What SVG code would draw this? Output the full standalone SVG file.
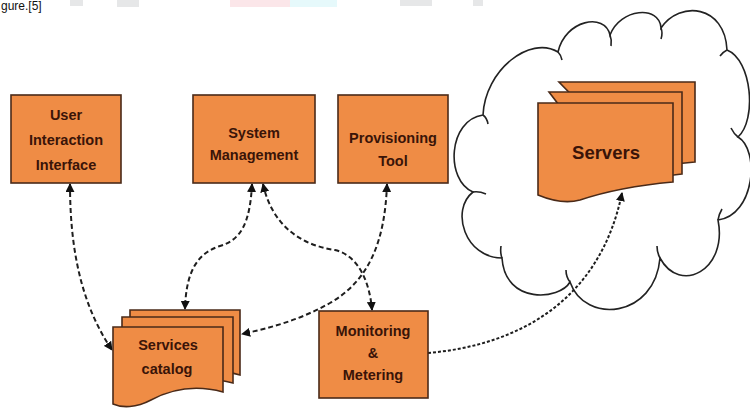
<svg xmlns="http://www.w3.org/2000/svg" width="750" height="410" viewBox="0 0 750 410">
  <style>
    .box { fill: #EF8C45; stroke: #4a2a18; stroke-width: 1.6; }
    .lbl { font-family: "Liberation Sans", Arial, sans-serif; font-weight: bold; font-size: 14.5px; fill: #3a1408; text-anchor: middle; }
    .big { font-size: 18.5px; }
    .conn { fill: none; stroke: #1e1e1e; stroke-width: 2; stroke-dasharray: 5 3; }
    .dot { fill: none; stroke: #1e1e1e; stroke-width: 2; stroke-dasharray: 3 2; }
    .cloud { fill: #ffffff; stroke: #222222; stroke-width: 1.6; }
    .hook { fill: none; stroke: #222222; stroke-width: 1.6; }
    .wm { opacity: 0.35; }
  </style>
  <defs>
    <marker id="arrow" viewBox="0 0 10 10" refX="9" refY="5" markerWidth="9" markerHeight="9" markerUnits="userSpaceOnUse" orient="auto-start-reverse">
      <path d="M0,0 L10,5 L0,10 z" fill="#111111"/>
    </marker>
  </defs>

  <rect x="0" y="0" width="750" height="410" fill="#ffffff"/>

  <!-- faint page watermark remnants -->
  <g class="wm">
    <rect x="70" y="0" width="13" height="6" fill="#b8bcc0"/>
    <rect x="117" y="0" width="22" height="7" fill="#b8bcc0"/>
    <rect x="230" y="0" width="60" height="7" fill="#f4b8c2"/>
    <rect x="290" y="0" width="47" height="7" fill="#b8eef4"/>
    <rect x="400" y="0" width="32" height="6" fill="#b8bcc0"/>
    <rect x="473" y="0" width="10" height="6" fill="#b8bcc0"/>
  </g>
  <text x="1" y="10" font-family="Liberation Sans, Arial, sans-serif" font-size="12" fill="#111111">gure.[5]</text>

  <!-- cloud -->
  <g id="cloud">
    <path class="cloud" d="M473,192 C445,180 448,120 483,115 C485,70 530,35 558,52 C565,20 605,12 610,35 C620,8 660,5 661,28 C680,0 725,5 727,50 C752,60 757,120 738,137 C760,150 755,215 718,220 C728,270 680,295 660,258 C655,318 585,325 570,282 C560,300 505,305 502,258 C465,258 450,210 473,192 Z"/>
    <path class="hook" d="M483,115 Q487,118 488,124"/>
    <path class="hook" d="M558,52 Q561,55 562,60"/>
    <path class="hook" d="M610,35 Q612,40 611,46"/>
    <path class="hook" d="M661,28 Q663,33 661,39"/>
    <path class="hook" d="M727,50 Q723,52 720,56"/>
    <path class="hook" d="M738,137 Q734,134 731,128"/>
    <path class="hook" d="M718,220 Q719,214 722,209"/>
    <path class="hook" d="M660,258 Q657,253 657,246"/>
    <path class="hook" d="M570,282 Q566,277 566,270"/>
    <path class="hook" d="M502,258 Q500,253 501,246"/>
    <path class="hook" d="M473,192 Q479,191 486,194"/>
  </g>

  <!-- connectors -->
  <g id="connectors">
    <path class="conn" d="M70,184 C70,240 78,300 112,350" marker-start="url(#arrow)" marker-end="url(#arrow)"/>
    <path class="conn" d="M252,184 C250,225 240,240 220,246 C195,254 186,275 185,309" marker-start="url(#arrow)" marker-end="url(#arrow)"/>
    <path class="conn" d="M263,184 C272,225 300,245 335,250 C360,256 370,285 372,310" marker-start="url(#arrow)" marker-end="url(#arrow)"/>
    <path class="conn" d="M387,184 C385,240 370,280 330,303 C300,320 270,328 242,334" marker-start="url(#arrow)" marker-end="url(#arrow)"/>
    <path class="dot" d="M428,353 C520,345 600,300 622,193" marker-end="url(#arrow)"/>
  </g>

  <!-- nodes -->
  <g id="user-interaction-interface">
    <rect class="box" x="11" y="95" width="110" height="88"/>
    <text class="lbl" x="66" y="120">User</text>
    <text class="lbl" x="66" y="145">Interaction</text>
    <text class="lbl" x="66" y="170">Interface</text>
  </g>

  <g id="system-management">
    <rect class="box" x="193" y="95" width="122" height="88"/>
    <text class="lbl" x="254" y="138">System</text>
    <text class="lbl" x="254" y="160">Management</text>
  </g>

  <g id="provisioning-tool">
    <rect class="box" x="338" y="95" width="110" height="88"/>
    <text class="lbl" x="393" y="143">Provisioning</text>
    <text class="lbl" x="393" y="166">Tool</text>
  </g>

  <g id="services-catalog">
    <path class="box" d="M130,310 H240 V375 C210,366 185,375 170,383 C155,391 140,391 130,387 Z"/>
    <path class="box" d="M122,317 H233 V383 C202,374 177,383 162,391 C147,399 132,399 122,395 Z"/>
    <path class="box" d="M113,327 H223 V392 C190,383 166,392 151,400 C136,408 122,408 113,404 Z"/>
    <text class="lbl" x="168" y="350">Services</text>
    <text class="lbl" x="167" y="374">catalog</text>
  </g>

  <g id="monitoring-metering">
    <rect class="box" x="319" y="311" width="109" height="87"/>
    <text class="lbl" x="373" y="336">Monitoring</text>
    <text class="lbl" x="373" y="358">&amp;</text>
    <text class="lbl" x="373" y="380">Metering</text>
  </g>

  <g id="servers">
    <path class="box" d="M559,82 H695 V162 C670,164 655,167 645,170 Z"/>
    <path class="box" d="M549,92 H682 V174 C660,176 640,180 620,185 Z"/>
    <path class="box" d="M538,103 H673 V182 C640,185 610,190 580,200 C565,204 550,200 538,195 Z"/>
    <text class="lbl big" x="606" y="159">Servers</text>
  </g>
</svg>
